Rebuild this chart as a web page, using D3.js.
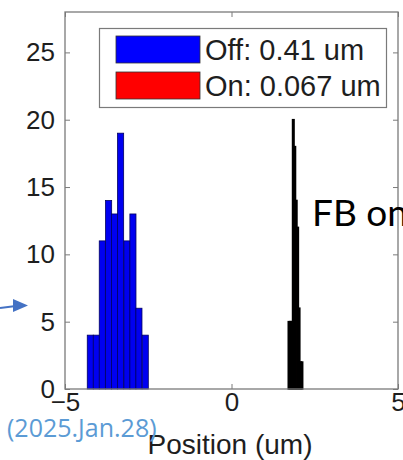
<!DOCTYPE html>
<html>
<head>
<meta charset="utf-8">
<script src="https://cdn.jsdelivr.net/npm/d3@7"></script>
<style>
  html, body { margin: 0; padding: 0; background: #fff; }
  svg { display: block; }
</style>
</head>
<body>
<svg id="chart" width="403" height="460"></svg>
<script>
// ---- data ----
const offCenters = [-4.24, -4.06, -3.88, -3.69, -3.51, -3.33, -3.14, -2.96, -2.78, -2.59];
const offCounts  = [4, 4, 11, 14, 13, 19, 11, 13, 6, 4];
const offWidth   = 0.183;
const onCenters  = [1.727, 1.770, 1.813, 1.856, 1.900, 1.943, 1.986, 2.029, 2.072, 2.115];
const onCounts   = [5, 5, 5, 20, 18, 14, 12, 6, 2, 2];
const onWidth    = 0.043;
const xTicks = [-5, 0, 5];
const yTicks = [0, 5, 10, 15, 20, 25];
const legendLabels = ["Off: 0.41 um", "On: 0.067 um"];
const legendColors = ["#0000ff", "#ff0000"];
const xLabel = "Position (um)";
const noteText = "(2025.Jan.28)";
const sideText = "FB on";

// ---- layout ----
const svg = d3.select("#chart");
const L = 65, R = 398, T = 12, B = 389;
const x = d3.scaleLinear().domain([-5, 5]).range([L, R]);
const y = d3.scaleLinear().domain([0, 28]).range([B, T]);
const axisColor = "#7a7a7a";
const textColor = "#1e1e1e";
const font = "'Liberation Sans', Arial, sans-serif";

// bars
const g = svg.append("g");
g.selectAll("rect.off").data(offCenters).join("rect")
  .attr("class", "off")
  .attr("x", (d) => x(d - offWidth / 2))
  .attr("width", x(offWidth) - x(0))
  .attr("y", (d, i) => y(offCounts[i]))
  .attr("height", (d, i) => y(0) - y(offCounts[i]))
  .attr("fill", "#0000f0")
  .attr("stroke", "#000060")
  .attr("stroke-width", 0.8);

g.selectAll("rect.on").data(onCenters).join("rect")
  .attr("class", "on")
  .attr("x", (d) => x(d - onWidth / 2))
  .attr("width", x(onWidth) - x(0))
  .attr("y", (d, i) => y(onCounts[i]))
  .attr("height", (d, i) => y(0) - y(onCounts[i]))
  .attr("fill", "#ff0000")
  .attr("stroke", "#000")
  .attr("stroke-width", 1.6);

// axes (ticks inward, MATLAB style)
function styleAxis(sel, showText) {
  sel.select(".domain").remove();
  sel.selectAll(".tick line").attr("stroke", axisColor);
  sel.selectAll(".tick text")
    .attr("font-family", font).attr("font-size", 26).attr("fill", textColor);
  if (!showText) sel.selectAll(".tick text").remove();
}
svg.append("g").attr("transform", `translate(0,${B})`)
  .call(d3.axisBottom(x).tickValues(xTicks).tickFormat(d3.format("d")).tickSize(-5).tickPadding(4))
  .call((s) => styleAxis(s, true));
svg.append("g").attr("transform", `translate(${L},0)`)
  .call(d3.axisLeft(y).tickValues(yTicks).tickSize(-5).tickPadding(10))
  .call((s) => styleAxis(s, true));
svg.append("g").attr("transform", `translate(0,${T})`)
  .call(d3.axisTop(x).tickValues(xTicks).tickSize(-5))
  .call((s) => styleAxis(s, false));
svg.append("g").attr("transform", `translate(${R},0)`)
  .call(d3.axisRight(y).tickValues(yTicks).tickSize(-5))
  .call((s) => styleAxis(s, false));

// box
svg.append("rect")
  .attr("x", L).attr("y", T).attr("width", R - L).attr("height", B - T)
  .attr("fill", "none").attr("stroke", axisColor).attr("stroke-width", 1.3);

// legend
const lg = svg.append("g");
lg.append("rect").attr("x", 99.5).attr("y", 28.5).attr("width", 287).attr("height", 79)
  .attr("fill", "#fff").attr("stroke", axisColor).attr("stroke-width", 1.2);
legendLabels.forEach((lab, i) => {
  const yy = 36 + i * 36;
  lg.append("rect").attr("x", 116).attr("y", yy).attr("width", 84).attr("height", 27)
    .attr("fill", legendColors[i]).attr("stroke", "#333").attr("stroke-width", 0.8);
  lg.append("text").attr("x", 205).attr("y", yy + 24)
    .attr("font-family", font).attr("font-size", 29).attr("fill", textColor)
    .text(lab);
});

// x label
svg.append("text").attr("x", 230).attr("y", 454).attr("text-anchor", "middle")
  .attr("font-family", font).attr("font-size", 28).attr("fill", textColor)
  .text(xLabel);

// annotations
svg.append("text").attr("x", 312).attr("y", 226)
  .attr("font-family", "Lato, 'Open Sans', sans-serif").attr("font-size", 37).attr("fill", "#000")
  .text(sideText);
svg.append("text").attr("x", 7).attr("y", 437)
  .attr("font-family", "'Open Sans', sans-serif").attr("font-size", 25).attr("fill", "#5b9bd5")
  .text(noteText);

// arrow
svg.append("line").attr("x1", 0).attr("y1", 308).attr("x2", 16).attr("y2", 306)
  .attr("stroke", "#4472c4").attr("stroke-width", 2.2);
svg.append("path").attr("d", "M13,299 L28,305.5 L13,312 Z").attr("fill", "#4472c4");
</script>
</body>
</html>
